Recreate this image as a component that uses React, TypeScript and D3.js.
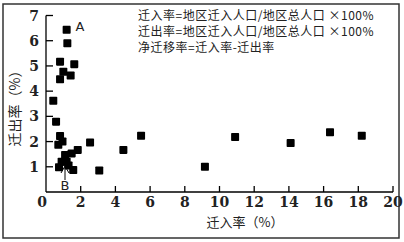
import React from "react";
import * as d3 from "d3";

const xVals = [1.19, 1.23, 0.81, 1.63, 1.0, 0.81, 1.42, 0.42, 0.58, 0.81, 0.71, 2.54, 1.83, 1.48, 1.1, 0.9, 1.19, 0.75, 1.57, 3.07, 5.48, 4.46, 9.16, 10.9, 14.1, 16.37, 18.2, 1.3, 0.95];
const yVals = [6.43, 5.9, 5.17, 5.07, 4.77, 4.47, 4.62, 3.62, 2.79, 2.22, 1.87, 1.96, 1.67, 1.53, 1.47, 1.2, 1.2, 0.98, 0.87, 0.85, 2.23, 1.67, 1.0, 2.18, 1.94, 2.37, 2.23, 1.05, 2.0];
const xTicks = [2, 4, 6, 8, 10, 12, 14, 16, 18, 20];
const yTicks = [1, 2, 3, 4, 5, 6, 7];
const notes = ["迁入率=地区迁入人口/地区总人口 ×100%", "迁出率=地区迁入人口/地区总人口 ×100%", "净迁移率=迁入率-迁出率"];

export default function App() {
  const W = 404, H = 242;
  const x = d3.scaleLinear().domain([0, 20]).range([46, 393]);
  const y = d3.scaleLinear().domain([0, 7]).range([192, 15.5]);
  const sq = 8;
  const serif = "DejaVu Serif, serif";
  const cjk = "Noto Sans CJK SC, sans-serif";
  return (
    <svg width={W} height={H} style={{ position: "absolute", left: 0, top: 0 }}>
      <rect x={0} y={0} width={W} height={H} fill="#fff" />
      <rect x={3} y={4} width={396} height={234} fill="none" stroke="#333" strokeWidth={1.5} />
      <line x1={x(0)} y1={y(0)} x2={x(0)} y2={y(7)} stroke="#000" strokeWidth={1.3} />
      <line x1={x(0)} y1={y(0)} x2={x(20)} y2={y(0)} stroke="#000" strokeWidth={1.3} />
      {yTicks.map((t) => (
        <g key={"y" + t}>
          <line x1={x(0)} x2={x(0) + 7} y1={y(t)} y2={y(t)} stroke="#000" strokeWidth={1.3} />
          <text x={39} y={y(t) + 5} textAnchor="end" style={{ fontFamily: serif, fontWeight: 700, fontSize: 14 }} fill="#222">{t}</text>
        </g>
      ))}
      {xTicks.map((t) => (
        <g key={"x" + t}>
          <line x1={x(t)} x2={x(t)} y1={y(0)} y2={y(0) - 6} stroke="#000" strokeWidth={1.3} />
          <text x={x(t)} y={207} textAnchor="middle" style={{ fontFamily: serif, fontWeight: 700, fontSize: 14 }} fill="#222">{t}</text>
        </g>
      ))}
      <text x={42} y={207} textAnchor="middle" style={{ fontFamily: serif, fontWeight: 700, fontSize: 14 }} fill="#222">0</text>
      {xVals.map((v, i) => (
        <rect key={i} x={x(v) - sq / 2} y={y(yVals[i]) - sq / 2} width={sq} height={sq} fill="#000" rx={0.8} />
      ))}
      <text x={80} y={31} textAnchor="middle" fontFamily="DejaVu Sans, sans-serif" fontSize={13} fill="#222">A</text>
      <text x={65} y={190} textAnchor="middle" fontFamily="DejaVu Sans, sans-serif" fontSize={13} fill="#222">B</text>
      <line x1={65} y1={180} x2={65} y2={167} stroke="#000" strokeWidth={1} />
      <path d="M61,173 L65,166 L69,173" fill="none" stroke="#000" strokeWidth={1} />
      {notes.map((n, i) => (
        <text key={i} x={138} y={20 + i * 16} style={{ fontFamily: cjk, fontSize: 12, letterSpacing: 0.5 }} fill="#222">{n}</text>
      ))}
      <text x={245} y={227} textAnchor="middle" style={{ fontFamily: cjk, fontSize: 13 }} fill="#222">迁入率（%）</text>
      <text transform="translate(20,105) rotate(-90)" textAnchor="middle" style={{ fontFamily: cjk, fontSize: 14 }} fill="#222">迁出率（%）</text>
    </svg>
  );
}
